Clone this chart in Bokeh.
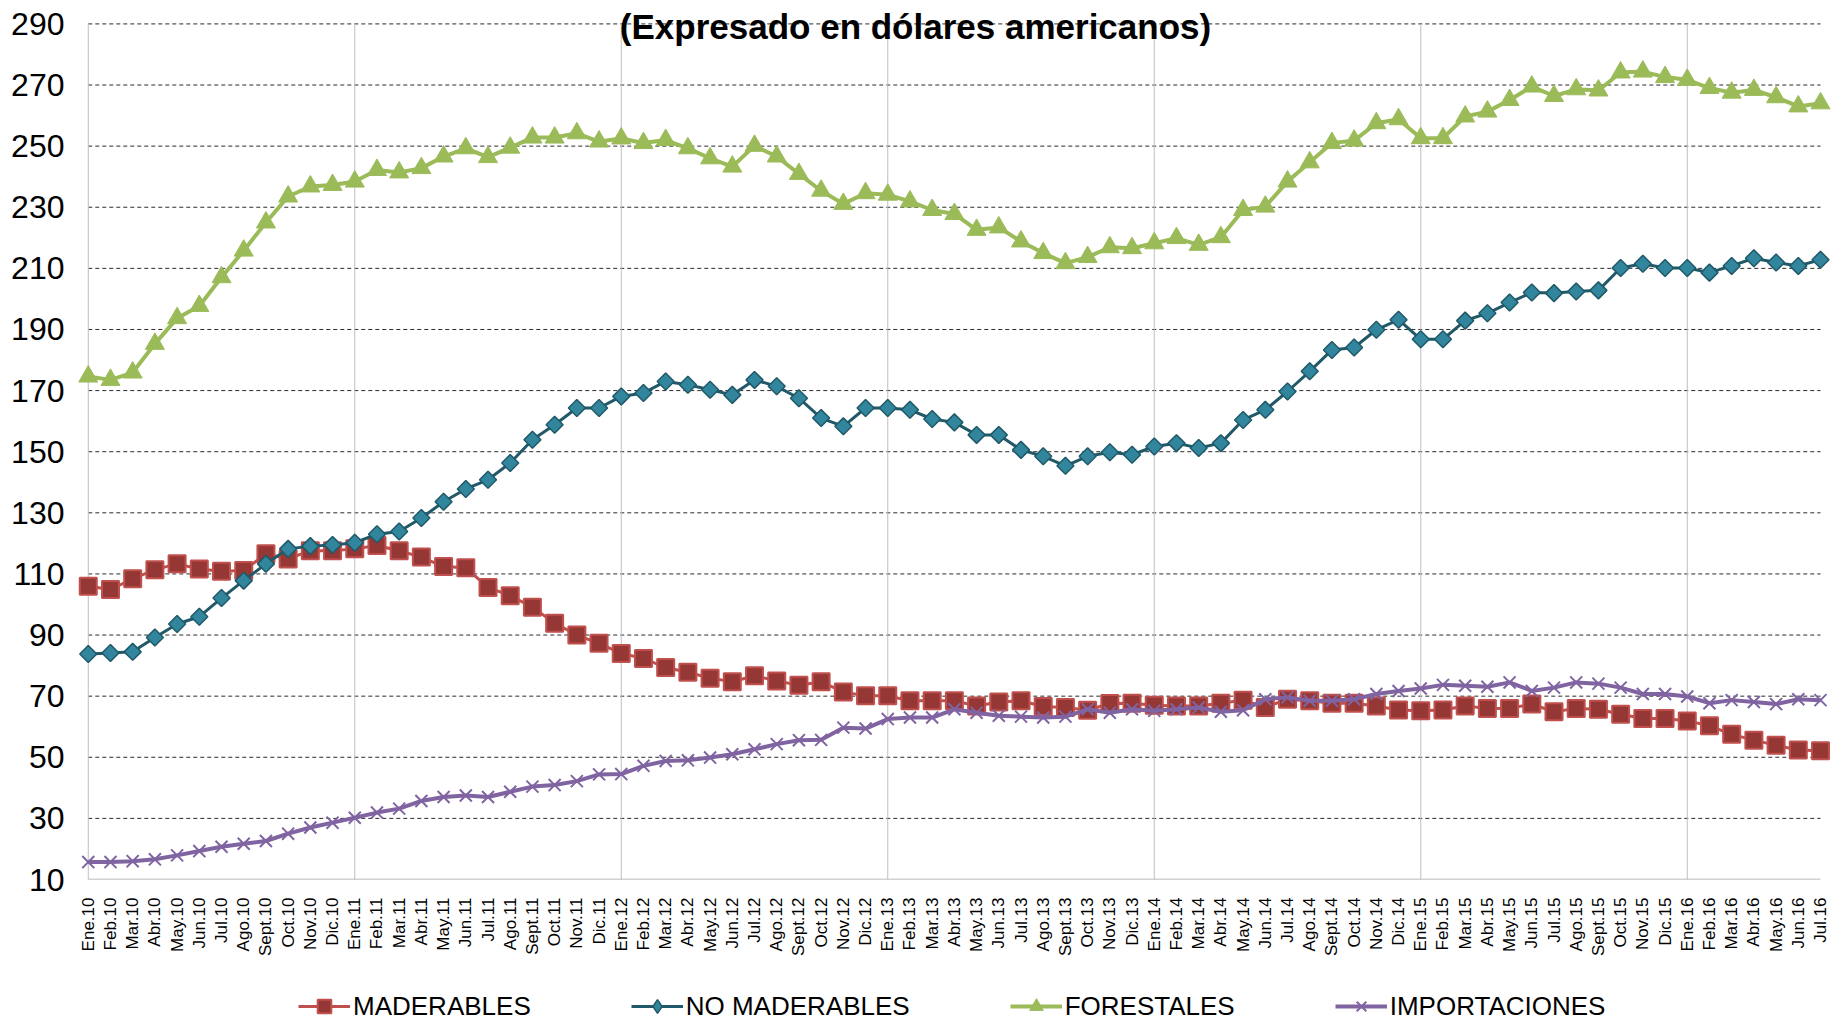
import math
from bokeh.plotting import figure
from bokeh.layouts import column
from bokeh.models import Range1d, FixedTicker, Legend, LegendItem, Label, ColumnDataSource
from bokeh.embed import file_html
from bokeh.resources import INLINE

MONTHS = ["Ene", "Feb", "Mar", "Abr", "May", "Jun", "Jul", "Ago", "Sept", "Oct", "Nov", "Dic"]
YEARS = ["10", "11", "12", "13", "14", "15", "16"]
N_POINTS = 79
LABELS = [f"{m}.{y}" for y in YEARS for m in MONTHS][:N_POINTS]

MADERABLES = [
    106.0, 104.9, 108.4, 111.4, 113.3, 111.6, 110.9, 111.1, 116.6, 114.9, 117.6, 117.6,
    118.2, 119.3, 117.6, 115.5, 112.4, 112.0, 105.6, 102.9, 99.1, 93.9, 90.0, 87.3,
    84.0, 82.3, 79.4, 77.8, 75.9, 74.7, 76.7, 75.0, 73.6, 74.7, 71.4, 70.1,
    70.1, 68.5, 68.5, 68.5, 66.8, 68.1, 68.5, 66.6, 66.3, 65.4, 67.6, 67.7,
    67.0, 66.8, 66.8, 67.7, 68.7, 66.3, 69.0, 68.5, 67.7, 67.7, 66.8, 65.5,
    65.2, 65.5, 66.8, 66.0, 66.0, 67.4, 64.9, 66.0, 65.7, 64.1, 62.7, 62.7,
    61.9, 60.3, 57.5, 55.6, 53.9, 52.4, 52.1,
]
NO_MADERABLES = [
    83.8, 84.1, 84.5, 89.2, 93.6, 96.0, 102.1, 107.8, 113.3, 118.2, 119.1, 119.5,
    120.2, 123.0, 123.9, 128.3, 133.6, 137.8, 140.8, 146.3, 153.9, 158.8, 164.3, 164.3,
    168.1, 169.2, 173.0, 171.9, 170.3, 168.6, 173.5, 171.4, 167.5, 161.0, 158.3, 164.3,
    164.3, 163.7, 160.7, 159.6, 155.5, 155.5, 150.6, 148.5, 145.4, 148.5, 149.8, 149.0,
    151.7, 152.8, 151.2, 152.8, 160.4, 163.7, 169.7, 176.3, 183.3, 184.1, 189.9, 193.2,
    186.8, 186.8, 192.9, 195.3, 198.8, 202.1, 201.9, 202.4, 202.8, 210.1, 211.5, 210.1,
    210.1, 208.6, 210.8, 213.3, 211.9, 210.8, 212.8,
]
FORESTALES = [
    174.6, 173.5, 175.9, 185.3, 193.7, 197.7, 207.1, 215.8, 225.0, 233.5, 236.8, 237.3,
    238.4, 242.2, 241.4, 242.8, 246.6, 249.3, 246.4, 249.5, 252.8, 252.8, 254.2, 251.5,
    252.5, 251.0, 252.0, 249.3, 246.0, 243.3, 250.1, 246.6, 240.9, 235.4, 231.1, 234.6,
    234.1, 231.9, 229.1, 227.8, 222.6, 223.4, 218.8, 215.0, 211.7, 213.7, 216.9, 216.6,
    218.2, 219.9, 217.7, 220.2, 229.1, 230.2, 238.4, 244.7, 251.0, 251.8, 257.5, 258.8,
    252.6, 252.6, 259.7, 261.3, 265.1, 269.5, 266.4, 268.6, 268.2, 274.1, 274.4, 272.6,
    271.7, 269.0, 267.5, 268.4, 266.0, 263.0, 264.0,
]
IMPORTACIONES = [
    15.7, 15.7, 16.0, 16.6, 17.9, 19.3, 20.7, 21.7, 22.6, 25.0, 27.0, 28.6,
    30.2, 31.9, 33.2, 35.7, 37.0, 37.5, 37.0, 38.7, 40.4, 40.9, 42.2, 44.4,
    44.5, 47.2, 48.8, 49.0, 49.9, 51.0, 52.6, 54.3, 55.6, 55.7, 59.7, 59.4,
    62.5, 63.0, 63.0, 65.7, 64.6, 63.6, 63.3, 63.0, 63.3, 65.7, 64.6, 65.7,
    65.2, 65.7, 66.3, 64.9, 65.4, 69.0, 69.6, 68.5, 68.5, 69.0, 70.7, 71.7,
    72.5, 73.7, 73.4, 73.1, 74.5, 71.7, 72.8, 74.5, 74.1, 72.8, 70.7, 70.7,
    69.9, 67.7, 68.7, 68.1, 67.4, 69.0, 68.7,
]
SERIES_NAMES = ["MADERABLES", "NO MADERABLES", "FORESTALES", "IMPORTACIONES"]
Y_TICKS = list(range(10, 291, 20))
YEAR_STARTS = list(range(0, N_POINTS, 12))
TITLE = "(Expresado en dólares americanos)"

FONT = "Liberation Sans"
X = list(range(N_POINTS))

STYLES = [
    dict(line=dict(line_color="#C0504D", line_width=3),
         mark=dict(marker="square", size=17, fill_color="#953735", line_color="#C0504D", line_width=2)),
    dict(line=dict(line_color="#215968", line_width=3),
         mark=dict(marker="square", angle=math.pi / 4, size=12, fill_color="#31859C",
                   line_color="#215968", line_width=1.5)),
    dict(line=dict(line_color="#9BBB59", line_width=4),
         mark=dict(marker="triangle", size=19, fill_color="#9BBB59", line_color="#9BBB59", line_width=1)),
    dict(line=dict(line_color="#8064A2", line_width=4),
         mark=dict(marker="x", size=17, line_color="#8064A2", line_width=2)),
]
# legend swatches (the legend does not rotate markers, so the diamond uses Bokeh's diamond)
LEGEND_STYLES = [
    STYLES[0],
    dict(line=STYLES[1]["line"],
         mark=dict(marker="diamond", size=12, fill_color="#31859C", line_color="#215968", line_width=1.5)),
    STYLES[2],
    STYLES[3],
]
COLS = ["mad", "nomad", "forest", "imp"]

src = ColumnDataSource(dict(x=X, mad=MADERABLES, nomad=NO_MADERABLES,
                            forest=FORESTALES, imp=IMPORTACIONES))

# ---------------- main chart ----------------
p = figure(width=1833, height=960, output_backend="svg", toolbar_location=None,
           x_range=Range1d(-0.8, 78.585), y_range=Range1d(10, 297.66),
           min_border_left=70, min_border_right=0, min_border_top=0, min_border_bottom=81,
           background_fill_color="white", border_fill_color="white")
p.outline_line_color = None
p.xgrid.grid_line_color = None
p.ygrid.grid_line_color = None

grid_vals = [t for t in Y_TICKS if t > Y_TICKS[0]]
p.segment(x0=X[0], x1=X[-1], y0=grid_vals, y1=grid_vals,
          line_color="#2b2b2b", line_width=1, line_dash="4 3")
p.segment(x0=YEAR_STARTS, x1=YEAR_STARTS, y0=Y_TICKS[0], y1=Y_TICKS[-1],
          line_color="#BFBFBF", line_width=1)
p.segment(x0=X[0], x1=X[-1], y0=Y_TICKS[0], y1=Y_TICKS[0],
          line_color="#A6A6A6", line_width=1.5)

p.yaxis.ticker = FixedTicker(ticks=Y_TICKS)
p.yaxis.axis_line_color = None
p.yaxis.major_tick_line_color = None
p.yaxis.minor_tick_line_color = None
p.yaxis.major_label_standoff = 0
p.yaxis.major_label_text_font = FONT
p.yaxis.major_label_text_font_size = "32px"
p.yaxis.major_label_text_color = "black"

p.xaxis.ticker = FixedTicker(ticks=X)
p.xaxis.major_label_overrides = {i: lab for i, lab in enumerate(LABELS)}
p.xaxis.major_label_orientation = math.pi / 2
p.xaxis.axis_line_color = None
p.xaxis.major_tick_line_color = None
p.xaxis.minor_tick_line_color = None
p.xaxis.major_label_standoff = 12
p.xaxis.major_label_text_font = FONT
p.xaxis.major_label_text_font_size = "17px"
p.xaxis.major_label_text_color = "black"

for col, st in zip(COLS, STYLES):
    p.line("x", col, source=src, **st["line"])
    p.scatter("x", col, source=src, **st["mark"])

title = Label(x=845, y=853, x_units="screen", y_units="screen", text=TITLE,
              text_font=FONT, text_font_size="35px", text_font_style="bold",
              text_align="center", text_baseline="middle", text_color="black")
p.add_layout(title)

# ---------------- legend strip ----------------
q = figure(width=1833, height=63, output_backend="svg", toolbar_location=None,
           x_range=Range1d(-1000, -999), y_range=Range1d(0, 1),
           x_axis_location=None, y_axis_location=None,
           min_border_left=0, min_border_right=0, min_border_top=0, min_border_bottom=0,
           background_fill_color="white", border_fill_color="white")
q.outline_line_color = None
q.grid.visible = False

items = []
for name, col, st in zip(SERIES_NAMES, COLS, LEGEND_STYLES):
    rl = q.line("x", col, source=src, **st["line"])
    rm = q.scatter("x", col, source=src, **st["mark"])
    items.append(LegendItem(label=name, renderers=[rl, rm]))

legend = Legend(items=items, orientation="horizontal", location=(228, 0),
                glyph_width=52, glyph_height=34, label_standoff=3, spacing=100,
                padding=0, margin=0, border_line_color=None, background_fill_alpha=0,
                label_text_font=FONT, label_text_font_size="26px", label_text_color="black")
q.add_layout(legend, "center")

layout = column(p, q, spacing=0)

with open("out.html", "w") as f:
    f.write(file_html(layout, INLINE))
